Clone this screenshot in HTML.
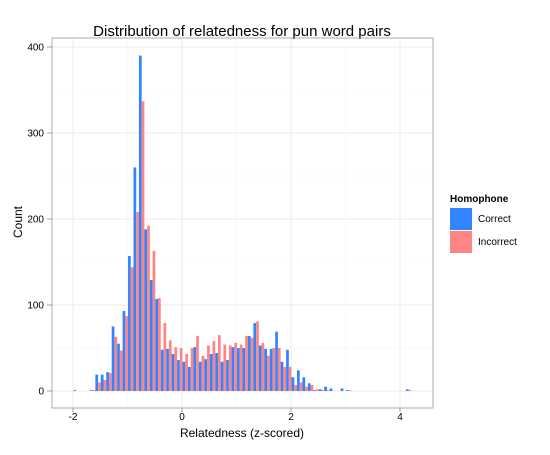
<!DOCTYPE html>
<html><head><meta charset="utf-8"><style>
body{margin:0;background:#fff;font-family:"Liberation Sans",sans-serif;}
</style></head><body>
<svg id="chart" width="550" height="450" xmlns="http://www.w3.org/2000/svg">
<rect width="550" height="450" fill="#fff"/>
<text x="242" y="36" text-anchor="middle" font-size="15" fill="#000">Distribution of relatedness for pun word pairs</text>
<g id="grid"></g>
<g id="bars"></g>
<rect x="52" y="38" width="381" height="370" fill="none" stroke="#999" stroke-width="0.8"/>
<g id="axes" font-size="10" fill="#000"></g>
<text x="242" y="437" text-anchor="middle" font-size="12">Relatedness (z-scored)</text>
<text transform="translate(22,222) rotate(-90)" text-anchor="middle" font-size="12">Count</text>
<g>
<text x="450" y="202" font-size="10" font-weight="bold">Homophone</text>
<rect x="450" y="208" width="22" height="22" fill="#3385ff"/>
<text x="478" y="222" font-size="10">Correct</text>
<rect x="450" y="231" width="22" height="22" fill="#ff8585"/>
<text x="478" y="245" font-size="10">Incorrect</text>
</g>
</svg>
<script>
const binStarts = [-1.99,-1.69,-1.59,-1.49,-1.39,-1.29,-1.19,-1.09,-0.99,-0.89,-0.79,-0.69,-0.59,-0.49,-0.39,-0.29,-0.19,-0.09,0.01,0.11,0.21,0.31,0.41,0.51,0.61,0.71,0.81,0.91,1.01,1.11,1.21,1.31,1.41,1.51,1.61,1.71,1.81,1.91,2.01,2.11,2.21,2.31,2.41,2.51,2.61,2.71,2.91,3.01,4.11];
const correctCounts = [1,1,19,19,22,75,55,93,157,260,390,188,129,107,48,49,43,36,34,28,51,34,37,43,44,34,36,51,50,50,64,79,53,49,49,69,34,48,16,24,16,9,1,2,5,3,3,1,2];
const incorrectCounts = [0,1,10,13,21,63,47,87,144,208,337,192,163,108,79,59,51,50,43,50,64,41,53,58,65,54,53,56,54,64,62,81,56,41,50,50,28,28,7,10,5,7,2,1,1,0,0,1,1];
const xTicks = [-2,0,2,4];
const yTicks = [0,100,200,300,400];
const binWidth = 0.1;
const NS = "http://www.w3.org/2000/svg";
function xs(v){return 182 + v*54.5;}
function ys(v){return 391 - v*0.86;}
const grid = document.getElementById('grid'), bars = document.getElementById('bars'), axes = document.getElementById('axes');
function ln(p,x1,y1,x2,y2,c,w){const l=document.createElementNS(NS,'line');l.setAttribute('x1',x1);l.setAttribute('y1',y1);l.setAttribute('x2',x2);l.setAttribute('y2',y2);l.setAttribute('stroke',c);l.setAttribute('stroke-width',w);p.appendChild(l);return l;}
for(let i=0;i<yTicks.length;i++){
  const g=ln(grid,52,ys(yTicks[i]),433,ys(yTicks[i]),'#ebebeb',1);
  
  
  if(i<yTicks.length-1){const m=ln(grid,52,ys((yTicks[i]+yTicks[i+1])/2),433,ys((yTicks[i]+yTicks[i+1])/2),'#f5f5f5',0.6);
  
  }
  const t=document.createElementNS(NS,'text');t.setAttribute('x',44);t.setAttribute('y',ys(yTicks[i])+3.5);t.setAttribute('text-anchor','end');t.textContent=yTicks[i];
  
  
  axes.appendChild(t);
  ln(axes,47,ys(yTicks[i]),52,ys(yTicks[i]),'#666',0.6);
}
for(let i=0;i<xTicks.length;i++){
  const g=ln(grid,xs(xTicks[i]),38,xs(xTicks[i]),408,'#ebebeb',1);
  
  
  if(i<xTicks.length-1){const m=ln(grid,xs((xTicks[i]+xTicks[i+1])/2),38,xs((xTicks[i]+xTicks[i+1])/2),408,'#f5f5f5',0.6);
  
  }
  const t=document.createElementNS(NS,'text');t.setAttribute('x',xs(xTicks[i]));t.setAttribute('y',420);t.setAttribute('text-anchor','middle');t.textContent=xTicks[i];
  
  
  axes.appendChild(t);
  ln(axes,xs(xTicks[i]),408,xs(xTicks[i]),412,'#666',0.6);
}
function bar(x0,x1,v,c,name){
  if(v<=0)return;
  const r=document.createElementNS(NS,'rect');
  r.setAttribute('x',xs(x0));r.setAttribute('width',xs(x1)-xs(x0));
  r.setAttribute('y',ys(v));r.setAttribute('height',ys(0)-ys(v));r.setAttribute('fill',c);
  
  
  bars.appendChild(r);
}
for(let i=0;i<binStarts.length;i++){
  const s=binStarts[i];
  bar(s,s+binWidth/2,correctCounts[i],'#3385ff','bar-correct');
  bar(s+binWidth/2,s+binWidth,incorrectCounts[i],'#ff8585','bar-incorrect');
}
</script>
</body></html>
